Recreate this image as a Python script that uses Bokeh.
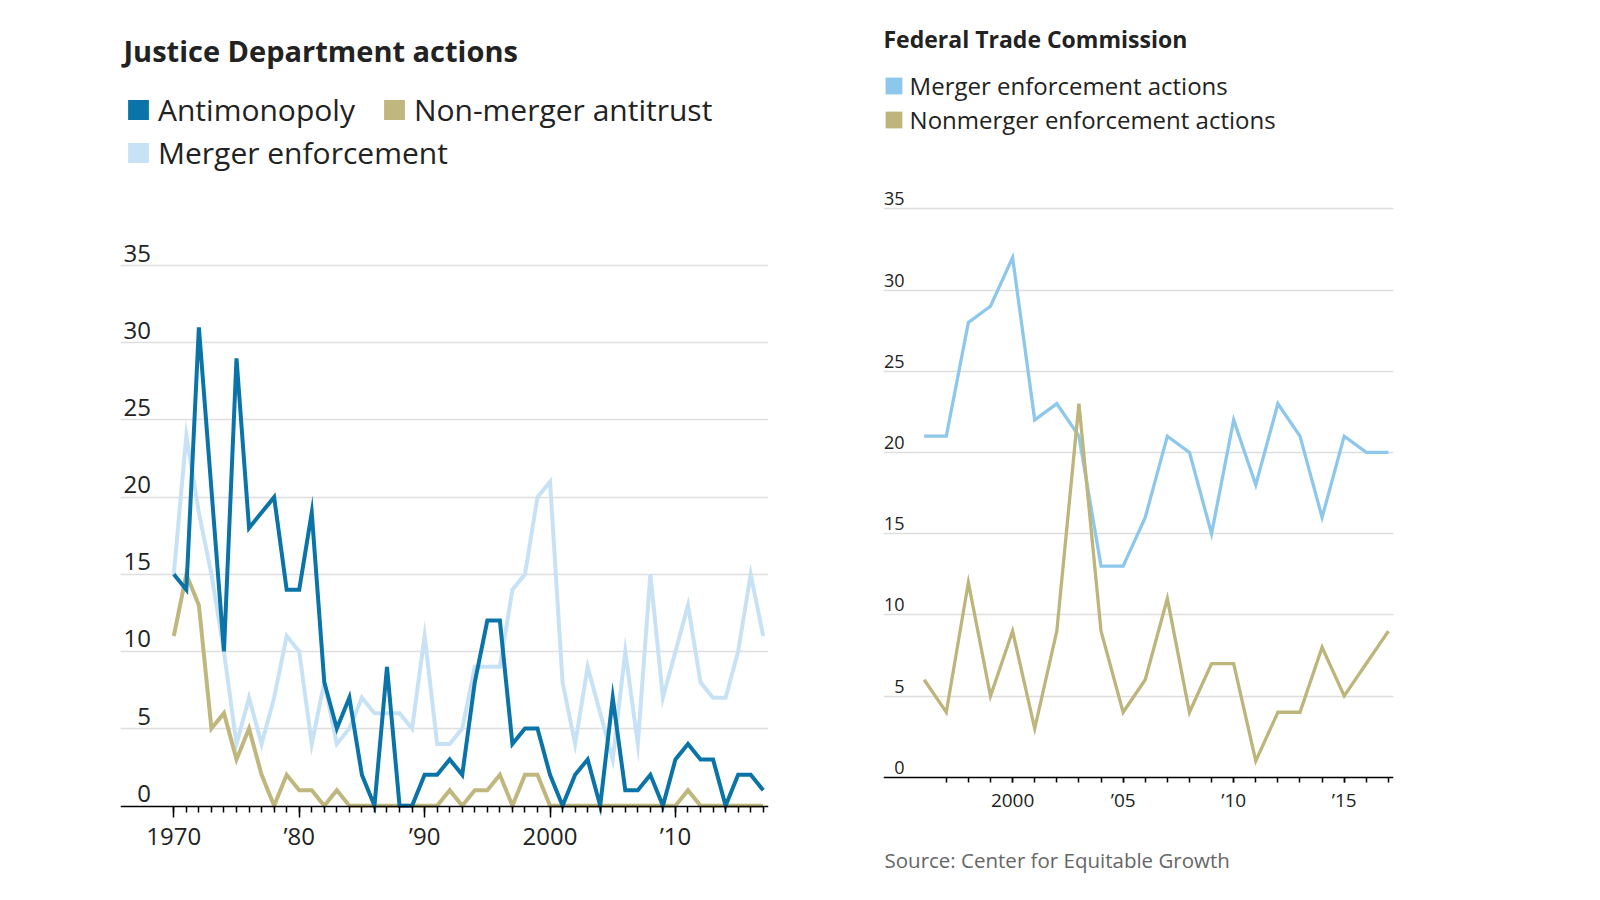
from bokeh.plotting import figure
from bokeh.models import ColumnDataSource, FixedTicker, Range1d, Label, Legend, LegendItem
from bokeh.layouts import row
from bokeh.embed import file_html
from bokeh.resources import INLINE
from bokeh.core.properties import value

FONT = "Open Sans"
NAN = float("nan")

# ---------------- data: Justice Department ----------------
doj_years = list(range(1970, 2018))
doj_antimonopoly = [15, 14, 31, 20.5, 10, 29, 18, 19, 20, 14,
                    14, 19, 8, 5, 7, 2, 0, 9, 0, 0,
                    2, 2, 3, 2, 8, 12, 12, 4, 5, 5,
                    2, 0, 2, 3, 0, 7, 1, 1, 2, 0,
                    3, 4, 3, 3, 0, 2, 2, 1]
doj_nonmerger = [11, 15, 13, 5, 6, 3, 5, 2, 0, 2,
                 1, 1, 0, 1, 0, 0, 0, 0, 0, 0,
                 0, 0, 1, 0, 1, 1, 2, 0, 2, 2,
                 0, 0, 0, 0, 0, 0, 0, 0, 0, 0,
                 0, 1, 0, 0, 0, 0, 0, 0]
doj_merger = [15, 24, 19, 15, 10, 4, 7, 4, 7, 11,
              10, 4, 8, 4, 5, 7, 6, 6, 6, 5,
              11, 4, 4, 5, 9, 9, 9, 14, 15, 20,
              21, 8, 4, 9, 6, 3, 10, 4, 15, 7,
              10, 13, 8, 7, 7, 10, 15, 11]
doj_yticks = [0, 5, 10, 15, 20, 25, 30, 35]
doj_xticks = [1970, 1980, 1990, 2000, 2010]
doj_xlabels = ["1970", "\u201980", "\u201990", "2000", "\u201910"]
doj_series_names = ["Antimonopoly", "Non-merger antitrust", "Merger enforcement"]

# ---------------- data: Federal Trade Commission ----------------
ftc_years = list(range(1996, 2018))
ftc_merger = [21, 21, 28, 29, 32, 22, 23, 21, 13, 13, 16,
              21, 20, 15, 22, 18, 23, 21, 16, 21, 20, 20]
ftc_nonmerger = [6, 4, 12, 5, 9, 3, 9, 23, 9, 4, 6,
                 11, 4, 7, 7, 1, 4, 4, 8, 5, 7, 9]
ftc_yticks = [0, 5, 10, 15, 20, 25, 30, 35]
ftc_xticks = [2000, 2005, 2010, 2015]
ftc_xlabels = ["2000", "\u201905", "\u201910", "\u201915"]
ftc_series_names = ["Merger enforcement actions", "Nonmerger enforcement actions"]
ftc_source = "Source: Center for Equitable Growth"

C_DARK = "#0a74a8"
C_KHAKI = "#bfb77d"
C_LIGHT = "#c8e2f5"
C_FTC_BLUE = "#8dc8ec"
C_FTC_KHAKI = "#bdb57b"
GRID = "#dedede"
TXT = "#222222"

H = 884


def base_fig(width, xr, yr, bl, br, axis_at):
    p = figure(width=width, height=H, x_range=Range1d(*xr), y_range=Range1d(*yr),
               output_backend="svg", toolbar_location=None,
               min_border_left=bl, min_border_right=br, min_border_top=0,
               min_border_bottom=0)
    p.outline_line_color = None
    p.background_fill_color = "white"
    p.border_fill_color = "white"
    p.yaxis.visible = False
    p.xgrid.grid_line_color = None
    p.ygrid.grid_line_color = GRID
    p.ygrid.grid_line_width = 1.5
    p.xaxis.fixed_location = axis_at
    p.xaxis.axis_line_color = "black"
    p.xaxis.axis_line_width = 1.5
    p.xaxis.major_tick_line_color = "black"
    p.xaxis.minor_tick_line_color = "black"
    p.xaxis.major_tick_line_width = 1.5
    p.xaxis.minor_tick_line_width = 1.5
    p.xaxis.major_tick_in = 0
    p.xaxis.minor_tick_in = 0
    p.xaxis.major_label_text_font = FONT
    p.xaxis.major_label_text_color = TXT
    return p


def legend(items, loc, size, gw, gh, standoff, spacing):
    return Legend(items=items, location=loc, orientation="horizontal",
                  label_text_font=FONT, label_text_font_size=f"{size}px",
                  label_text_color=TXT, glyph_width=gw, glyph_height=gh,
                  label_standoff=standoff, spacing=spacing, padding=0, margin=0,
                  border_line_color=None, background_fill_alpha=0)


def swatch(p, color):
    return p.quad(left=[NAN], right=[NAN], top=[NAN], bottom=[NAN],
                  fill_color=color, line_color=None)


# ================= left chart =================
L_W = 840
left = base_fig(L_W, (1965.75, 2017.42), (-5.107, 52.19), 120, 72, -0.05)
left.ygrid.ticker = FixedTicker(ticks=doj_yticks[1:])
left.xaxis.ticker = FixedTicker(ticks=doj_xticks, minor_ticks=doj_years)
left.xaxis.major_label_overrides = dict(zip(doj_xticks, doj_xlabels))
left.xaxis.major_tick_out = 11
left.xaxis.minor_tick_out = 6
left.xaxis.major_label_text_font_size = "24px"
left.xaxis.major_label_standoff = 2

src_l = ColumnDataSource(dict(year=doj_years, anti=doj_antimonopoly,
                              nonm=doj_nonmerger, merg=doj_merger))
left.line("year", "merg", source=src_l, line_color=C_LIGHT, line_width=4, line_join="miter")
left.line("year", "nonm", source=src_l, line_color=C_KHAKI, line_width=4, line_join="miter")
left.line("year", "anti", source=src_l, line_color=C_DARK, line_width=4, line_join="miter")

ytl = ColumnDataSource(dict(x=[left.x_range.start] * len(doj_yticks), y=doj_yticks,
                            t=[str(v) for v in doj_yticks]))
left.text("x", "y", text="t", source=ytl, text_align="right", text_baseline="alphabetic",
          x_offset=30.5, y_offset=-12.5, text_font=value(FONT), text_font_size="24px",
          text_color=TXT)

sw_anti = swatch(left, C_DARK)
sw_nonm = swatch(left, C_KHAKI)
sw_merg = swatch(left, C_LIGHT)
left.add_layout(legend([LegendItem(label=doj_series_names[0], renderers=[sw_anti]),
                        LegendItem(label=doj_series_names[1], renderers=[sw_nonm])],
                       (5, 754), 30, 26, 25, 7, 26))
left.add_layout(legend([LegendItem(label=doj_series_names[2], renderers=[sw_merg])],
                       (5, 711), 30, 26, 25, 7, 26))
left.add_layout(Label(x=3, y=834.5, x_units="screen", y_units="screen",
                      text="Justice Department actions", text_font=FONT,
                      text_font_size="29px", text_font_style="bold", text_color=TXT,
                      text_baseline="alphabetic"))

# ================= right chart =================
R_W = 744
right = base_fig(R_W, (1994.16, 2017.23), (-6.607, 47.83), 43, 191, 0)
right.ygrid.ticker = FixedTicker(ticks=ftc_yticks[1:])
right.xaxis.ticker = FixedTicker(ticks=ftc_xticks, minor_ticks=ftc_years[1:])
right.xaxis.major_label_overrides = dict(zip(ftc_xticks, ftc_xlabels))
right.xaxis.major_tick_out = 5
right.xaxis.minor_tick_out = 5
right.xaxis.major_label_text_font_size = "19px"
right.xaxis.major_label_standoff = 5

src_r = ColumnDataSource(dict(year=ftc_years, merg=ftc_merger, nonm=ftc_nonmerger))
right.line("year", "merg", source=src_r, line_color=C_FTC_BLUE, line_width=3.3, line_join="miter")
right.line("year", "nonm", source=src_r, line_color=C_FTC_KHAKI, line_width=3.3, line_join="miter")

ytr = ColumnDataSource(dict(x=[right.x_range.start] * len(ftc_yticks), y=ftc_yticks,
                            t=[str(v) for v in ftc_yticks]))
right.text("x", "y", text="t", source=ytr, text_align="right", text_baseline="alphabetic",
           x_offset=21, y_offset=-10, text_font=value(FONT), text_font_size="18px",
           text_color=TXT)

sw_fm = swatch(right, C_FTC_BLUE)
sw_fn = swatch(right, C_FTC_KHAKI)
right.add_layout(legend([LegendItem(label=ftc_series_names[0], renderers=[sw_fm])],
                        (-0.4, 782.5), 24, 21, 21, 6, 10))
right.add_layout(legend([LegendItem(label=ftc_series_names[1], renderers=[sw_fn])],
                        (-0.4, 748.5), 24, 21, 21, 6, 10))
right.add_layout(Label(x=0, y=846, x_units="screen", y_units="screen",
                       text="Federal Trade Commission", text_font=FONT,
                       text_font_size="23px", text_font_style="bold", text_color=TXT,
                       text_baseline="alphabetic"))
right.add_layout(Label(x=1, y=24.8, x_units="screen", y_units="screen",
                       text=ftc_source, text_font=FONT, text_font_size="20.5px",
                       text_color="#666666", text_baseline="alphabetic"))

page = row(left, right)
open("out.html", "w").write(file_html(page, INLINE))
